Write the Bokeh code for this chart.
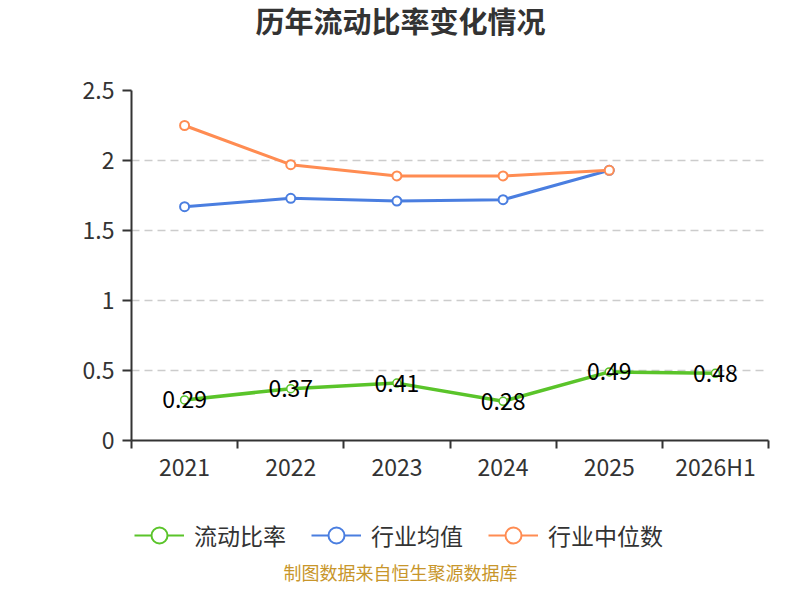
import numpy as np
from bokeh.plotting import figure
from bokeh.layouts import column
from bokeh.models import (ColumnDataSource, FixedTicker, Legend, LegendItem,
                          Label, NumeralTickFormatter, Range1d)
from bokeh.core.properties import value
from bokeh.embed import file_html
from bokeh.resources import INLINE

categories = ["2021", "2022", "2023", "2024", "2025", "2026H1"]
current_ratio = [0.29, 0.37, 0.41, 0.28, 0.49, 0.48]
industry_mean = [1.67, 1.73, 1.71, 1.72, 1.93]
industry_median = [2.25, 1.97, 1.89, 1.89, 1.93]
y_ticks = [0, 0.5, 1, 1.5, 2, 2.5]
series_names = ["流动比率", "行业均值", "行业中位数"]

FONT = "Noto Sans CJK SC"
GREEN = "#5ac42a"
BLUE = "#4a7ee0"
ORANGE = "#ff8c52"
colors = [GREEN, BLUE, ORANGE]

# band centres of the category axis
pos = np.arange(len(categories)) + 0.5

src_cur = ColumnDataSource(dict(x=pos, y=current_ratio,
                                lab=["%.2f" % v for v in current_ratio]))
src_mean = ColumnDataSource(dict(x=pos[:len(industry_mean)], y=industry_mean))
src_med = ColumnDataSource(dict(x=pos[:len(industry_median)], y=industry_median))
sources = [src_cur, src_mean, src_med]


def strip(height):
    f = figure(width=784, height=height, output_backend="svg",
               toolbar_location=None, x_range=Range1d(0, 1),
               y_range=Range1d(10, 11), min_border=0,
               x_axis_location=None, y_axis_location=None)
    f.outline_line_color = None
    f.xgrid.grid_line_color = None
    f.ygrid.grid_line_color = None
    return f


# title strip
t = strip(60)
t.add_layout(Label(x=269, y=41, x_units="screen", y_units="screen",
                   text="历年流动比率变化情况", text_font=FONT, text_font_size="29px",
                   text_font_style="bold", text_color="#333333",
                   text_align="center", text_baseline="middle"))

p = figure(width=784, height=432, output_backend="svg", toolbar_location=None,
           x_range=Range1d(0, len(categories)), y_range=Range1d(0, 2.5),
           min_border_left=131, min_border_right=16, min_border_top=30,
           min_border_bottom=52)
p.outline_line_color = None

# axes
p.xaxis.ticker = FixedTicker(ticks=list(pos), minor_ticks=list(range(len(categories) + 1)))
p.xaxis.major_label_overrides = {float(x): c for x, c in zip(pos, categories)}
p.xaxis.major_tick_line_color = None
p.xaxis.minor_tick_out = 8
p.xaxis.minor_tick_in = 0
p.xaxis.minor_tick_line_color = "#333333"
p.xaxis.minor_tick_line_width = 2
p.xaxis.major_label_standoff = 0
p.yaxis.ticker = FixedTicker(ticks=y_ticks)
p.yaxis.formatter = NumeralTickFormatter(format="0.[0]")
p.yaxis.major_tick_out = 9
p.yaxis.major_tick_in = 0
p.yaxis.minor_tick_line_color = None
p.yaxis.major_tick_line_color = "#333333"
p.yaxis.major_tick_line_width = 2
p.yaxis.major_label_standoff = 8
for ax in (p.xaxis, p.yaxis):
    ax.axis_line_color = "#333333"
    ax.axis_line_width = 2
    ax.major_label_text_font = FONT
    ax.major_label_text_font_size = "23px"
    ax.major_label_text_color = "#333333"

p.xgrid.grid_line_color = None
p.ygrid.grid_line_color = "#cccccc"
p.ygrid.grid_line_dash = "8 5"
p.ygrid.grid_line_width = 1.5

# series
p.line("x", "y", source=src_cur, color=GREEN, line_width=3.5)
p.scatter("x", "y", source=src_cur, size=8, line_color=GREEN,
          fill_color="white", line_width=1.5)
p.line("x", "y", source=src_mean, color=BLUE, line_width=3)
p.scatter("x", "y", source=src_mean, size=9, line_color=BLUE,
          fill_color="white", line_width=2)
p.line("x", "y", source=src_med, color=ORANGE, line_width=3)
p.scatter("x", "y", source=src_med, size=9, line_color=ORANGE,
          fill_color="white", line_width=2)

p.text("x", "y", text="lab", source=src_cur, text_font=value(FONT),
       text_font_size="23px", text_color="black", text_align="center",
       text_baseline="middle")

# legend + source note in a strip below the chart
q = strip(92)
items = []
for name, c, src in zip(series_names, colors, sources):
    # same data, but out of this strip's view: only the legend swatch shows
    rl = q.line("x", "y", source=src, color=c, line_width=2)
    rm = q.scatter("x", "y", source=src, line_color=c, fill_color="white",
                   line_width=2)
    items.append(LegendItem(label=name, renderers=[rl, rm]))

legend = Legend(items=items, orientation="horizontal", location=(3, 29),
                border_line_color=None, background_fill_alpha=0,
                label_text_font=FONT, label_text_font_size="23px",
                label_text_color="#333333", glyph_width=50, glyph_height=40,
                label_standoff=10, spacing=25, padding=0, margin=0)
q.add_layout(legend, "center")

q.add_layout(Label(x=269, y=13, x_units="screen", y_units="screen",
                   text="制图数据来自恒生聚源数据库", text_font=FONT, text_font_size="18px",
                   text_color="#c8962b", text_align="center", text_baseline="middle"))

open("out.html", "w").write(file_html(column(t, p, q, spacing=0), INLINE))
